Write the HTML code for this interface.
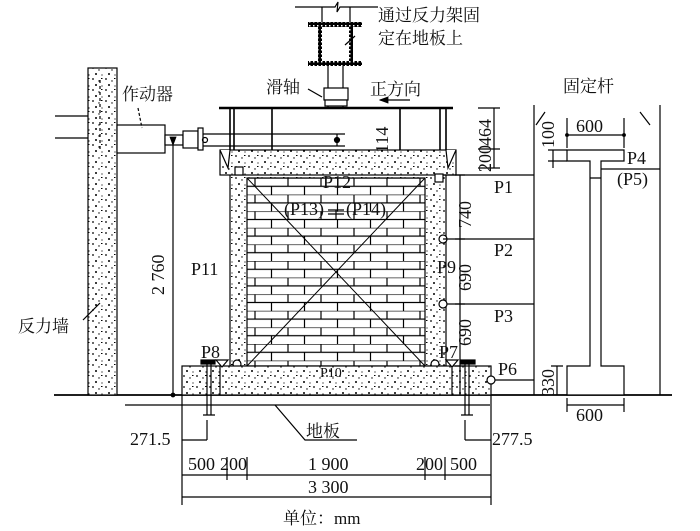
<!DOCTYPE html>
<html><head><meta charset="utf-8"><style>
html,body{margin:0;padding:0;background:#fff}
svg{display:block}
text{font-family:"Liberation Serif","Noto Serif CJK SC",serif;fill:#111}
.c{font-family:"Liberation Serif","Noto Serif CJK SC","Noto Sans CJK SC",serif}
</style></head><body>
<svg width="700" height="531" viewBox="0 0 700 531" xmlns="http://www.w3.org/2000/svg">
<defs>
<pattern id="con" width="13" height="11" patternUnits="userSpaceOnUse">
<rect width="13" height="11" fill="#fff"/>
<circle cx="2" cy="2" r="0.9" fill="#000"/><circle cx="8" cy="4" r="0.7" fill="#000"/>
<circle cx="5" cy="8" r="1" fill="#000"/><circle cx="11" cy="9" r="0.6" fill="#000"/>
<rect x="10" y="1" width="1.5" height="1" fill="#000"/>
</pattern>
<pattern id="brick" x="247" y="178" width="33" height="16.6" patternUnits="userSpaceOnUse">
<rect width="33" height="16.6" fill="#fff"/>
<path d="M0 0H33M0 8.3H33M8 0V8.3M24.5 8.3V16.6" stroke="#000" stroke-width="1.2" fill="none"/>
</pattern>
<pattern id="hat" width="4" height="4" patternUnits="userSpaceOnUse">
<rect width="4" height="4" fill="#000"/><rect x="1" y="1" width="1.5" height="1.5" fill="#fff"/>
</pattern>
<marker id="ar" markerWidth="8" markerHeight="6" refX="7" refY="3" orient="auto"><path d="M0,0L8,3L0,6z" fill="#000"/></marker>
<marker id="dt" markerWidth="4" markerHeight="4" refX="2" refY="2"><circle cx="2" cy="2" r="1.6" fill="#000"/></marker>
</defs>
<g stroke="#000" fill="none" stroke-width="1.2">
<line x1="54" y1="395" x2="672" y2="395" stroke-width="1.8"/>
<line x1="125" y1="405" x2="490" y2="405"/>
<rect x="88" y="68" width="29" height="327" fill="url(#con)"/>
<path d="M55 116H88M55 138H88"/>
<path d="M100 80V150" stroke-dasharray="3 3"/>
<rect x="117" y="125" width="48" height="28" fill="#fff"/>
<rect x="165" y="135" width="18" height="10" fill="#fff"/>
<rect x="183" y="131" width="15" height="17" fill="#fff"/>
<rect x="198" y="128" width="5" height="22" fill="#fff"/>
<path d="M203 134H345M203 146H345M337 134V146"/>
<circle cx="337" cy="140" r="2.5" fill="#000"/>
<circle cx="205" cy="140" r="2.5"/>
<line x1="219" y1="108" x2="453" y2="108" stroke-width="2.6"/>
<path d="M230 108V150M234 108V150M272 108V150M400 108V150M440 108V150M446 108V150" stroke-width="1.6"/>
<path d="M295 7H335L338 2L337 12L340 7H378"/>
<path d="M322 7V25M350 7V25M328 66V108M343 66V108"/>
<rect x="308" y="22" width="54" height="5" fill="url(#hat)" stroke="none"/>
<rect x="308" y="61" width="54" height="5" fill="url(#hat)" stroke="none"/>
<rect x="318" y="27" width="4" height="34" fill="url(#hat)" stroke="none"/>
<rect x="349" y="27" width="4" height="34" fill="url(#hat)" stroke="none"/>
<rect x="324" y="88" width="24" height="12" fill="#fff"/>
<rect x="325" y="100" width="22" height="6" fill="#fff"/>
<path d="M345 45L355 36"/>
<rect x="230" y="165" width="216" height="201" fill="url(#con)"/>
<rect x="220" y="150" width="236" height="25" fill="url(#con)"/>
<path d="M220 150L228 168L230 150M456 150L448 168L446 150" fill="#fff"/>
<rect x="247" y="178" width="178" height="188" fill="url(#brick)"/>
<path d="M247 178L425 366M425 178L247 366" stroke-width="1"/>
<rect x="235" y="167" width="8" height="8" fill="#fff"/>
<rect x="435" y="174" width="8" height="8" fill="#fff"/>
<circle cx="443" cy="239" r="4" fill="#fff"/>
<circle cx="443" cy="304" r="4" fill="#fff"/>
<circle cx="237" cy="364" r="4" fill="#fff"/>
<circle cx="435" cy="364" r="4" fill="#fff"/>
<path d="M328 210H344M328 214H344M336 210V220"/>
<rect x="182" y="366" width="309" height="29" fill="url(#con)"/>
<path d="M220 366V395M452 366V395"/>
<path d="M207 362V415M211 362V415M203 415H215M465 362V415M469 362V415M461 415H473"/>
<rect x="201" y="360" width="14" height="4" fill="#000"/>
<rect x="461" y="360" width="14" height="4" fill="#000"/>
<path d="M216 360H228L222 367ZM446 360H458L452 367Z" fill="#fff"/>
<circle cx="491" cy="380" r="4" fill="#fff"/>
<path d="M443 175H534M443 239H534M447 304H534M495 380H534"/>
<path d="M534 105V395M660 105V395"/>
<path d="M460 175V395"/>
<path d="M455 239H465M455 304H465M455 366H465M455 175H465"/>
<path d="M494 108V168M478 108H500M478 149H500M478 168H500"/>
<path d="M567 150H624V161H601V366H624V395H567V366H590V161H567Z" fill="#fff"/>
<path d="M601 169H660M590 178H601"/>
<path d="M557 366V395M551 366H563"/>
<path d="M553 150V168M548 150H567M548 161H567"/>
<path d="M567 135H624" marker-start="url(#dt)" marker-end="url(#dt)"/>
<path d="M567 118V148M624 118V148"/>
<path d="M567 405H624M567 398V412M624 398V412"/>
<path d="M536 125L545 112M640 112L650 125"/>
<path d="M173 145V395" marker-start="url(#ar)"/>
<circle cx="173" cy="395" r="1.8" fill="#000"/>
<path d="M182 395V505M491 395V505"/>
<path d="M207 420V440M182 440H207M465 420V440M465 440H491"/>
<path d="M182 475H491M227 457V480M247 457V480M425 457V480M445 457V480"/>
<path d="M182 497H491"/>
<path d="M410 100H380" marker-end="url(#ar)"/>
<path d="M138 108L142 128" stroke-dasharray="3 2"/>
<path d="M308 89L322 97"/>
<path d="M83 320L100 303"/>
<path d="M275 405L305 440H357"/>
</g>
<g font-size="17" class="c">
<text x="378" y="21">通过反力架固</text>
<text x="378" y="44">定在地板上</text>
<text x="266" y="93">滑轴</text>
<text x="122" y="100">作动器</text>
<text x="370" y="95">正方向</text>
<text x="563" y="92">固定杆</text>
<text x="18" y="332">反力墙</text>
<text x="306" y="437">地板</text>
<text x="283" y="524">单位：mm</text>
</g>
<g font-size="18">
<text x="323" y="188">P12</text>
<text x="284" y="215">(P13)</text>
<text x="346" y="215">(P14)</text>
<text x="191" y="275">P11</text>
<text x="201" y="358">P8</text>
<text x="439" y="358">P7</text>
<text x="437" y="273">P9</text>
<text x="320" y="377" font-size="14">P10</text>
<text x="494" y="193">P1</text>
<text x="494" y="256">P2</text>
<text x="494" y="322">P3</text>
<text x="498" y="375">P6</text>
<text x="627" y="164">P4</text>
<text x="617" y="185">(P5)</text>
<text x="576" y="132">600</text>
<text x="576" y="421">600</text>
<text x="130" y="445">271.5</text>
<text x="492" y="445">277.5</text>
<text x="188" y="470">500</text>
<text x="220" y="470">200</text>
<text x="308" y="470">1 900</text>
<text x="416" y="470">200</text>
<text x="450" y="470">500</text>
<text x="308" y="493">3 300</text>
<text transform="translate(164,295) rotate(-90)">2 760</text>
<text transform="translate(388,153) rotate(-90)">114</text>
<text transform="translate(491,146) rotate(-90)">464</text>
<text transform="translate(491,172) rotate(-90)">200</text>
<text transform="translate(471,228) rotate(-90)">740</text>
<text transform="translate(471,291) rotate(-90)">690</text>
<text transform="translate(471,346) rotate(-90)">690</text>
<text transform="translate(554,396) rotate(-90)">330</text>
<text transform="translate(554,148) rotate(-90)">100</text>
</g>
</svg>
</body></html>
